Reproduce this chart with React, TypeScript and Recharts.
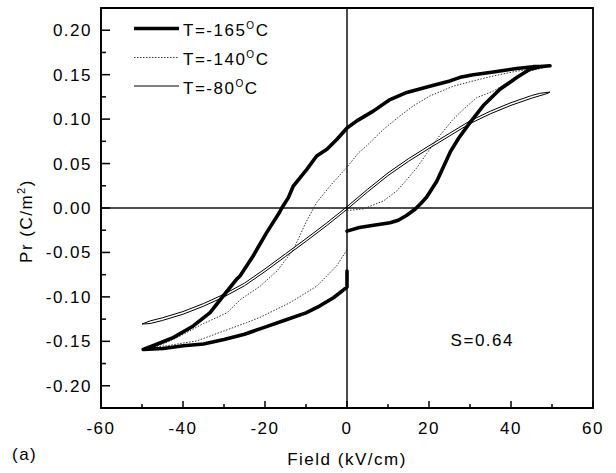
import React from 'react';
import { LineChart, Line, XAxis, YAxis, ReferenceLine, ReferenceArea, ReferenceDot, Legend } from 'recharts';

// Axis ticks
const xTicks = [-60, -50, -40, -30, -20, -10, 0, 10, 20, 30, 40, 50, 60];
const xMajor = [-60, -40, -20, 0, 20, 40, 60];
const yTicks = [-0.2, -0.175, -0.15, -0.125, -0.1, -0.075, -0.05, -0.025, 0, 0.025, 0.05, 0.075, 0.1, 0.125, 0.15, 0.175, 0.2];

// T=-165 C loop (field kV/cm, polarization C/m2), in drawing order
const field165 = [0, 3, 6.5, 10.5, 12.5, 14.5, 16.6, 18, 19.4, 21.9, 23.7, 25.3, 27.3, 30, 33.2, 37.3, 41.4, 44.6, 47, 49.5,
  47, 45.4, 41.4, 35.7, 30.8, 27.6, 25.1, 20.2, 14.6, 10.5, 6.4, 2.4, 0, -2.5, -4.9, -7.4, -9.8, -13.1, -14.3, -15.9, -16.6, -19.6, -22.9, -26.1, -26.9, -30.2, -33.4, -37.5, -42.4, -46.4, -49.7,
  -44.8, -39.9, -35, -30, -25, -20, -15, -10, -6.6, -3.3, 0, 0];
const pol165 = [-0.026, -0.022, -0.0195, -0.0165, -0.0138, -0.0085, -0.0015, 0.005, 0.012, 0.03, 0.048, 0.064, 0.079, 0.096, 0.115, 0.1335, 0.1467, 0.156, 0.159, 0.16,
  0.159, 0.159, 0.157, 0.153, 0.15, 0.147, 0.143, 0.137, 0.13, 0.122, 0.109, 0.098, 0.09, 0.077, 0.066, 0.0585, 0.0435, 0.0247, 0.0117, 0, -0.006, -0.0277, -0.054, -0.0765, -0.08, -0.099, -0.1177, -0.1327, -0.1458, -0.1533, -0.159,
  -0.158, -0.155, -0.153, -0.148, -0.142, -0.134, -0.126, -0.118, -0.11, -0.101, -0.089, -0.071];

// T=-140 C loop
const field140 = [0, 4, 8.9, 12.1, 14.6, 17, 19.4, 22, 25.9, 28.4, 31.6, 35.7, 40.6, 44.6, 48,
  45, 41.4, 35.7, 30.8, 25.9, 20.2, 16.2, 12.9, 8.9, 4.8, 2.8, 0, -4.1, -7.4, -10, -13.1, -17.1, -21.2, -26, -29.3, -35, -40.7, -44.8, -48,
  -44, -40, -36.7, -31, -24.5, -21.2, -13.9, -7.4, -2.5, 0];
const pol140 = [-0.003, -0.001, 0.008, 0.019, 0.032, 0.045, 0.061, 0.078, 0.0998, 0.111, 0.124, 0.1316, 0.1448, 0.154, 0.158,
  0.156, 0.154, 0.1485, 0.143, 0.137, 0.126, 0.115, 0.1035, 0.0885, 0.07, 0.062, 0.046, 0.025, 0.006, -0.016, -0.047, -0.071, -0.088, -0.103, -0.118, -0.13, -0.144, -0.153, -0.157,
  -0.155, -0.152, -0.1496, -0.14, -0.129, -0.123, -0.1065, -0.088, -0.065, -0.047];

// T=-80 C loop
const field80 = [0, 5, 10, 15, 20, 25, 30, 35, 40, 45, 49, 49.5,
  47, 45, 40, 35, 30, 25, 20, 15, 10, 5, 0, -5, -10, -15, -20, -25, -30, -35, -40, -45, -48, -50,
  -48, -45, -40, -35, -30, -25, -20, -15, -10, -5, 0];
const pol80 = [-0.0015, 0.018, 0.0365, 0.0525, 0.067, 0.081, 0.095, 0.106, 0.1155, 0.1235, 0.129, 0.1305,
  0.129, 0.1265, 0.1185, 0.109, 0.098, 0.084, 0.07, 0.0555, 0.0395, 0.021, 0.0015, -0.017, -0.0345, -0.0515, -0.0685, -0.0845, -0.097, -0.1075, -0.1165, -0.1235, -0.127, -0.1305,
  -0.13, -0.1265, -0.1195, -0.1105, -0.1, -0.0875, -0.0715, -0.0545, -0.0375, -0.02, -0.0015];

const seriesNames = ['T=-165', 'T=-140', 'T=-80'];
const annotation = 'S=0.64';

const toPoints = (e: number[], p: number[]) => e.map((v, i) => ({ e: v, p: p[i] }));
const data165 = toPoints(field165, pol165);
const data140 = toPoints(field140, pol140);
const data80 = toPoints(field80, pol80);

const FONT = '"Liberation Sans", Arial, sans-serif';
const LS = 1.5;

const XTick = (props: any) => {
  const { x, y, payload } = props;
  const v = payload.value;
  const major = xMajor.includes(v);
  return (
    <g>
      <line x1={x} x2={x} y1={y} y2={y - (major ? 7 : 4)} stroke="#000" strokeWidth={1.5} />
      {major && (
        <text x={x} y={y + 26} textAnchor="middle" fontSize={17} fontFamily={FONT} letterSpacing={LS} fill="#000">
          {String(v)}
        </text>
      )}
    </g>
  );
};

const YTick = (props: any) => {
  const { x, y, payload } = props;
  const v = payload.value;
  const major = Math.abs(Math.round(v * 1000)) % 50 === 0;
  return (
    <g>
      <line x1={x} x2={x + (major ? 9 : 5)} y1={y} y2={y} stroke="#000" strokeWidth={1.5} />
      {major && (
        <text x={x - 9} y={y + 6} textAnchor="end" fontSize={17} fontFamily={FONT} letterSpacing={LS} fill="#000">
          {v.toFixed(2)}
        </text>
      )}
    </g>
  );
};

const XLabel = (props: any) => {
  const vb = props.viewBox || { x: 101, y: 408, width: 492 };
  return (
    <g>
      <text x={vb.x + vb.width / 2} y={vb.y + 57} textAnchor="middle" fontSize={17} fontFamily={FONT} letterSpacing={LS} fill="#000">
        Field (kV/cm)
      </text>
      <text x={12} y={vb.y + 52} textAnchor="start" fontSize={17} fontFamily={FONT} letterSpacing={LS} fill="#000">
        (a)
      </text>
    </g>
  );
};

const YLabel = (props: any) => {
  const vb = props.viewBox || { x: 0, y: 8, width: 101, height: 400 };
  const cx = 31.5;
  const cy = vb.y + 213;
  return (
    <text x={cx} y={cy} transform={`rotate(-90, ${cx}, ${cy})`} textAnchor="middle" fontSize={17} fontFamily={FONT} letterSpacing={LS} fill="#000">
      Pr (C/m<tspan dy={-7} fontSize={11}>2</tspan><tspan dy={7}>)</tspan>
    </text>
  );
};

const LegendBox = () => {
  const rows = [
    { y: 28.5, w: 3.5, dash: undefined as string | undefined, color: '#000' },
    { y: 57.5, w: 1, dash: '1.5 1.5', color: '#333' },
    { y: 86, w: 1, dash: undefined, color: '#000' },
  ];
  return (
    <svg width={616} height={473} style={{ position: 'absolute', left: 0, top: 0 }}>
      {rows.map((r, i) => (
        <g key={i}>
          <line x1={134} x2={179} y1={r.y} y2={r.y} stroke={r.color} strokeWidth={r.w} strokeDasharray={r.dash} />
          <text x={183} y={r.y + 7.5} fontSize={17} fontFamily={FONT} letterSpacing={LS} fill="#000">
            {seriesNames[i]}<tspan dy={-7} fontSize={10}>O</tspan><tspan dy={7}>C</tspan>
          </text>
        </g>
      ))}
    </svg>
  );
};

export default function App() {
  return (
    <div style={{ position: 'absolute', left: 0, top: 0, width: 616, height: 473, background: '#fff' }}>
      <LineChart width={616} height={473} margin={{ top: 8, right: 23, left: 0, bottom: 0 }}>
        <XAxis
          dataKey="e"
          type="number"
          domain={[-60, 60]}
          ticks={xTicks}
          interval={0}
          allowDataOverflow
          height={65}
          tickSize={0}
          tickMargin={0}
          tickLine={false}
          axisLine={{ stroke: '#000', strokeWidth: 1.5 }}
          tick={<XTick />}
          label={<XLabel />}
        />
        <YAxis
          dataKey="p"
          type="number"
          domain={[-0.225, 0.225]}
          ticks={yTicks}
          interval={0}
          allowDataOverflow
          width={101}
          tickSize={0}
          tickMargin={0}
          tickLine={false}
          axisLine={{ stroke: '#000', strokeWidth: 1.5 }}
          tick={<YTick />}
          label={<YLabel />}
        />
        <ReferenceArea x1={-60} x2={60} y1={-0.225} y2={0.225} fill="none" stroke="#000" strokeWidth={1.8} fillOpacity={0} />
        <ReferenceLine x={0} stroke="#111" strokeWidth={1.5} />
        <ReferenceLine y={0} stroke="#111" strokeWidth={1.5} />
        <Line data={data80} dataKey="p" type="linear" stroke="#000" strokeWidth={1} dot={false} isAnimationActive={false} />
        <Line data={data140} dataKey="p" type="linear" stroke="#333" strokeWidth={1} strokeDasharray="1.5 1.5" dot={false} isAnimationActive={false} />
        <Line data={data165} dataKey="p" type="linear" stroke="#000" strokeWidth={3.6} strokeLinejoin="round" strokeLinecap="round" dot={false} isAnimationActive={false} />
        <ReferenceDot
          x={33}
          y={-0.149}
          r={0}
          fill="none"
          stroke="none"
          label={{ value: annotation, position: 'center', fontSize: 17, fontFamily: FONT, letterSpacing: LS, fill: '#000' }}
        />
        <Legend
          layout="horizontal"
          verticalAlign="middle"
          align="center"
          wrapperStyle={{ position: 'absolute', left: 0, top: 0, width: 616, height: 473, pointerEvents: 'none' }}
          content={() => <LegendBox />}
        />
      </LineChart>
    </div>
  );
}
